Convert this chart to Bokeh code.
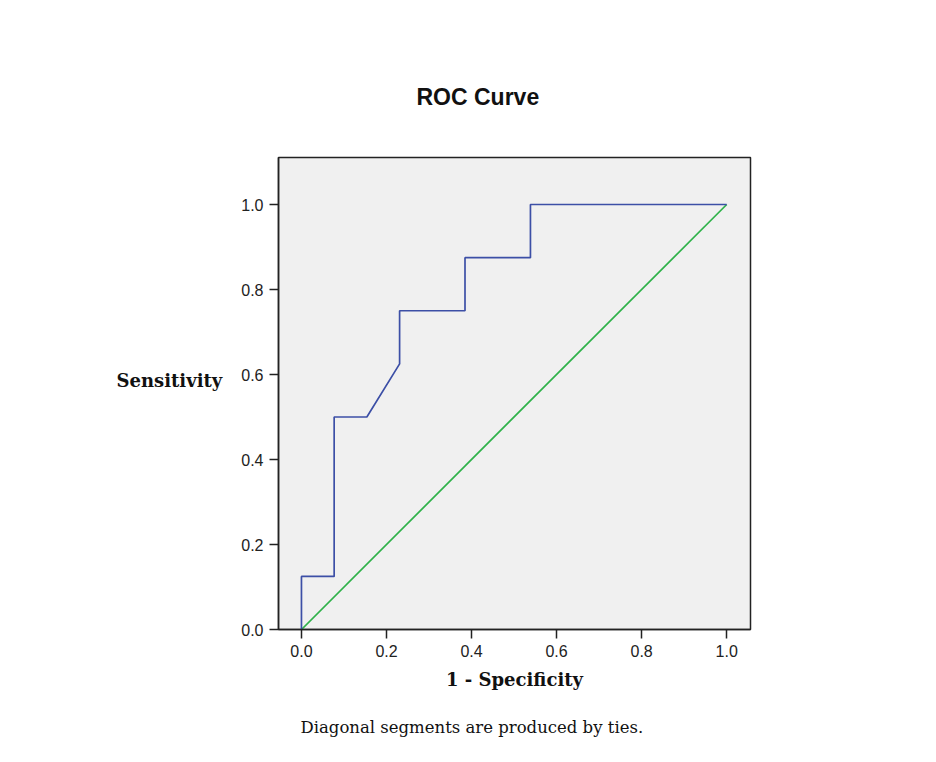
from bokeh.plotting import figure
from bokeh.models import Range1d, FixedTicker, Title, CustomJSTickFormatter
from bokeh.embed import file_html
from bokeh.resources import INLINE

# ROC curve data (1 - Specificity, Sensitivity)
fpr = [0.0, 0.0, 0.0769, 0.0769, 0.1538, 0.2308, 0.2308, 0.3846, 0.3846, 0.5385, 0.5385, 1.0]
tpr = [0.0, 0.125, 0.125, 0.5, 0.5, 0.625, 0.75, 0.75, 0.875, 0.875, 1.0, 1.0]
ref_x = [0.0, 1.0]
ref_y = [0.0, 1.0]
ticks = [0.0, 0.2, 0.4, 0.6, 0.8, 1.0]

W, H = 928, 760
p = figure(width=W, height=H, output_backend="svg", toolbar_location=None,
           x_range=Range1d(-0.054, 1.056), y_range=Range1d(0.0, 1.1106),
           min_border_left=278, min_border_right=178, min_border_top=157, min_border_bottom=131)

p.background_fill_color = "#f0f0f0"
p.border_fill_color = "white"
p.outline_line_color = "#222222"
p.outline_line_width = 1.5
p.grid.visible = False

for ax in (p.xaxis, p.yaxis):
    ax.ticker = FixedTicker(ticks=ticks)
    ax.minor_tick_line_color = None
    ax.major_tick_in = 0
    ax.major_tick_out = 9
    ax.major_tick_line_width = 1.5
    ax.major_tick_line_color = "#222222"
    ax.axis_line_color = "#222222"
    ax.axis_line_width = 1.5
    ax.major_label_text_font = "Liberation Sans"
    ax.major_label_text_font_size = "16px"
    ax.major_label_text_color = "#222222"
    ax.major_label_standoff = 6
    ax.axis_label_text_font = "DejaVu Serif"
    ax.axis_label_text_font_style = "bold"
    ax.axis_label_text_font_size = "18px"
    ax.axis_label_text_color = "#111111"

fmt = CustomJSTickFormatter(code="return tick.toFixed(1);")
p.xaxis.formatter = fmt
p.yaxis.formatter = fmt

p.xaxis.axis_label = "1 - Specificity"
p.xaxis.axis_label_standoff = 9
p.yaxis.axis_label = "Sensitivity\n "
p.yaxis.axis_label_standoff = 16
p.yaxis.axis_label_orientation = "horizontal"

p.title.text = "ROC Curve"
p.title.align = "left"
p.title.offset = 138
p.title.standoff = 96
p.title.text_font = "Liberation Sans"
p.title.text_font_style = "bold"
p.title.text_font_size = "23px"
p.title.text_color = "#111111"

foot = Title(text="Diagonal segments are produced by ties.", align="left", offset=22,
             standoff=46, text_font="DejaVu Serif", text_font_style="normal",
             text_font_size="16.5px", text_color="#111111")
p.add_layout(foot, "below")

p.line(ref_x, ref_y, line_color="#2fb24a", line_width=1.7)
p.line(fpr, tpr, line_color="#3c4fa6", line_width=1.7)

open("out.html", "w").write(file_html(p, INLINE))
